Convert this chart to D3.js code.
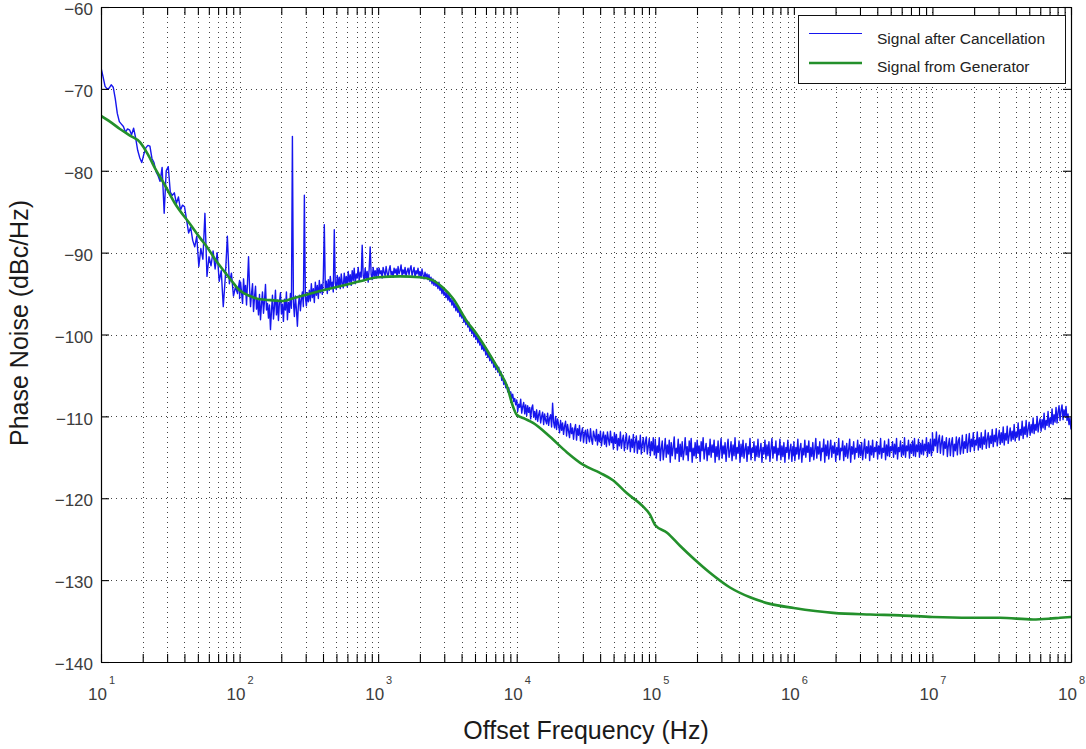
<!DOCTYPE html>
<html>
<head>
<meta charset="utf-8">
<script src="https://cdn.jsdelivr.net/npm/d3@7"></script>
<style>
  html, body { margin: 0; padding: 0; background: #ffffff; }
  svg { display: block; font-family: "Liberation Sans", Arial, sans-serif; }
</style>
</head>
<body>
<svg id="chart" width="1086" height="749"></svg>
<script>
// ---- axis content ----
const yTicks = [-60, -70, -80, -90, -100, -110, -120, -130, -140];
const decadeExponents = [1, 2, 3, 4, 5, 6, 7, 8];
const legendLabels = ["Signal after Cancellation", "Signal from Generator"];
const xTitle = "Offset Frequency (Hz)";
const yTitle = "Phase Noise (dBc/Hz)";

// ---- generator phase noise (Hz, dBc/Hz) ----
const generatorFreq = [10, 11.6, 13.7, 16.2, 19.1, 21.8, 24.9, 29.0, 34.2, 43.9, 51.8, 58.2, 66.5, 75.9, 88.1,
  100, 119, 140, 166, 206, 251, 307, 380, 531, 740,
  1000, 1438, 2005, 2489, 2939, 3469, 4377, 5167, 6412, 7570, 8505, 9400,
  10000, 11480, 13120, 17400, 23070, 30080, 39900, 49500, 62500, 81500, 91600,
  100000, 121600, 150800, 187000, 248000, 346000, 483000, 673000,
  1.0e6, 1.92e6, 3.55e6, 5.84e6, 1.0e7, 1.87e7, 3.07e7, 5.32e7, 7.05e7, 8.33e7, 1.0e8];
const generatorLevel = [-73.3, -74.0, -74.9, -75.7, -76.5, -78.0, -79.9, -81.8, -84.0, -86.5, -88.2, -89.3, -90.8, -92.1, -93.5,
  -94.6, -95.3, -95.7, -95.8, -95.9, -95.5, -95.1, -94.7, -94.1, -93.5,
  -93.0, -92.9, -93.0, -93.4, -94.3, -95.6, -98.4, -100.0, -102.5, -104.6, -106.3, -108.8,
  -109.8, -110.3, -110.8, -112.5, -114.4, -115.9, -116.9, -117.8, -119.4, -121.0, -122.0,
  -123.3, -124.2, -125.8, -127.3, -129.1, -130.9, -132.1, -132.9,
  -133.4, -134.0, -134.2, -134.3, -134.5, -134.6, -134.6, -134.8, -134.7, -134.6, -134.5];

// ---- residual after cancellation: one sweep per decade, points evenly spaced in log frequency ----
const sweepEdges = [10, 100, 1e3, 1e4, 1e5, 1e6, 1e7, 1e8];
const cancel10Hz = [-67.4, -68.5, -69.7, -70.0, -69.9, -69.5, -69.8, -71.2, -73.0, -74.0,
  -74.3, -74.6, -75.3, -74.9, -75.0, -75.6, -74.8, -76.0, -77.5, -78.4,
  -79.0, -78.0, -77.2, -76.9, -77.0, -78.5, -79.0, -80.1, -80.6, -81.3,
  -79.6, -85.2, -80.0, -79.5, -82.6, -83.0, -82.7, -84.0, -83.2, -84.8,
  -84.2, -84.4, -86.0, -87.6, -86.9, -88.5, -89.3, -88.0, -91.7, -89.5,
  -90.8, -85.2, -92.9, -90.5, -91.6, -89.8, -92.0, -90.0, -93.5, -92.2,
  -96.6, -93.0, -88.0, -93.8, -92.5, -95.3, -94.2, -95.0, -93.4];
const cancel100Hz = [-95.6, -93.6, -94.9, -96.2, -93.2, -95.1, -94.0, -96.4, -93.5, -90.5,
  -94.2, -96.6, -95.0, -93.8, -97.2, -95.4, -94.1, -96.9, -95.7, -97.6,
  -95.1, -98.2, -96.3, -94.8, -97.4, -95.9, -93.9, -97.0, -96.2, -98.0,
  -96.4, -99.4, -97.1, -95.2, -98.1, -96.6, -94.6, -97.6, -95.8, -98.3,
  -96.0, -94.9, -97.5, -96.3, -98.4, -95.7, -97.0, -94.8, -98.2, -96.1,
  -97.3, -95.0, -96.8, -75.8, -96.0, -97.8, -95.3, -96.9, -99.0, -96.4,
  -95.2, -97.1, -95.7, -94.8, -96.6, -83.0, -95.4, -96.5, -94.9, -96.0,
  -94.6, -95.9, -93.8, -95.5, -94.4, -96.1, -93.6, -95.2, -94.0, -95.6,
  -93.4, -94.9, -93.9, -95.1, -93.1, -86.6, -94.4, -93.5, -95.0, -93.3,
  -94.6, -92.9, -94.2, -93.6, -94.8, -87.2, -93.7, -94.5, -92.8, -94.1,
  -93.0, -94.4, -92.6, -93.8, -94.3, -92.5, -93.9, -92.9, -94.2, -92.3,
  -93.6, -92.7, -94.0, -92.2, -93.4, -91.9, -93.8, -92.6, -93.1, -91.8,
  -93.5, -92.4, -93.0, -89.1, -92.8, -93.4, -91.9, -93.2, -92.3, -93.6,
  -92.0, -89.3, -92.7, -93.3, -91.8, -92.9, -92.2, -93.1, -91.9, -92.6];
const cancel1kHz = [-92.9, -91.9, -92.6, -92.2, -93.1, -91.8, -92.4, -92.8, -91.7, -92.5,
  -93.0, -92.1, -91.6, -92.7, -92.3, -93.0, -91.9, -92.5, -92.0, -92.9,
  -91.7, -92.6, -92.2, -91.5, -92.8, -92.1, -92.6, -91.8, -92.9, -92.3,
  -91.9, -92.7, -92.0, -91.6, -92.8, -92.3, -91.8, -93.0, -92.2, -92.6,
  -91.9, -92.8, -92.3, -93.1, -92.0, -92.7, -93.2, -92.4, -93.0, -92.6,
  -93.3, -92.7, -93.5, -93.0, -93.8, -93.2, -94.0, -93.4, -94.1, -93.7,
  -94.4, -93.6, -94.6, -94.1, -95.0, -94.3, -95.2, -94.8, -95.5, -94.9,
  -95.8, -95.1, -96.0, -95.6, -96.4, -95.8, -96.7, -96.2, -97.1, -96.5,
  -97.3, -96.7, -97.8, -97.2, -98.0, -97.6, -98.5, -97.9, -98.8, -98.3,
  -99.1, -98.5, -99.6, -99.0, -99.9, -99.3, -100.3, -99.8, -100.6, -100.1,
  -101.0, -100.4, -101.3, -100.9, -101.8, -101.2, -102.0, -101.6, -102.5, -101.9,
  -102.8, -102.3, -103.2, -102.6, -103.5, -103.1, -104.0, -103.4, -104.3, -103.8,
  -104.6, -104.0, -105.0, -104.5, -105.6, -105.0, -106.1, -105.6, -106.5, -106.1,
  -107.0, -106.5, -107.3, -107.0, -107.8, -107.3, -108.2, -107.8, -108.6, -108.2];
const cancel10kHz = [-108.0, -109.4, -108.5, -108.9, -107.9, -109.6, -108.8, -108.3, -109.7, -108.6,
  -109.9, -108.7, -109.5, -108.9, -110.3, -109.0, -108.6, -110.1, -109.4, -110.4,
  -109.2, -110.6, -109.8, -109.3, -110.8, -110.0, -109.5, -111.0, -109.7, -110.5,
  -110.9, -109.6, -111.1, -110.2, -109.8, -111.3, -108.4, -110.7, -111.4, -110.0,
  -111.6, -110.3, -111.0, -112.0, -110.5, -111.7, -110.8, -112.2, -111.2, -110.6,
  -112.4, -111.0, -111.8, -112.6, -110.9, -112.1, -111.4, -112.8, -111.6, -111.0,
  -112.9, -111.5, -112.3, -111.1, -113.0, -112.0, -111.4, -113.2, -112.1, -111.7,
  -113.3, -111.6, -112.5, -113.1, -111.5, -112.8, -113.4, -111.8, -112.4, -113.0,
  -111.6, -113.5, -112.2, -113.1, -111.8, -113.6, -112.6, -111.9, -113.4, -112.3,
  -113.7, -111.9, -112.8, -113.5, -111.8, -113.2, -112.5, -114.0, -112.0, -113.3,
  -112.2, -114.1, -112.7, -113.6, -111.9, -113.9, -112.9, -112.3, -114.2, -113.0,
  -112.1, -114.0, -113.2, -112.4, -114.3, -112.8, -113.8, -112.2, -114.4, -113.1,
  -112.4, -114.5, -113.0, -114.0, -112.3, -114.6, -113.4, -112.6, -114.3, -113.2,
  -112.5, -114.6, -113.6, -112.7, -114.8, -113.1, -114.2, -112.6, -114.7, -113.4];
const cancel100kHz = [-112.8, -115.1, -113.6, -114.4, -112.6, -115.4, -113.9, -113.0, -115.3, -114.1,
  -112.7, -115.0, -113.5, -114.6, -112.9, -115.6, -113.2, -114.8, -113.8, -112.5,
  -115.2, -113.9, -114.5, -112.8, -115.5, -113.4, -114.9, -113.1, -115.3, -114.2,
  -112.6, -114.7, -113.7, -115.4, -113.0, -114.3, -112.7, -115.6, -113.9, -114.8,
  -113.2, -115.1, -112.9, -114.5, -113.6, -115.5, -113.1, -114.2, -112.6, -115.2,
  -114.0, -113.3, -115.4, -113.8, -114.7, -112.8, -115.0, -113.5, -114.4, -112.9,
  -115.6, -113.7, -114.9, -113.0, -115.3, -114.1, -112.7, -115.1, -113.6, -114.6,
  -113.2, -115.5, -113.9, -112.8, -115.0, -114.3, -113.1, -115.4, -113.5, -114.8,
  -112.6, -115.2, -113.8, -114.5, -113.0, -115.6, -113.4, -114.9, -112.9, -115.1,
  -114.0, -113.3, -115.5, -113.7, -114.6, -112.7, -115.3, -113.9, -114.4, -113.1,
  -115.4, -113.6, -114.9, -112.8, -115.0, -114.2, -113.3, -115.6, -113.8, -114.6,
  -112.9, -115.2, -113.5, -114.8, -113.1, -115.5, -114.0, -112.7, -115.1, -113.7,
  -114.5, -113.0, -115.4, -113.9, -114.7, -112.8, -115.3, -113.6, -114.9, -113.2,
  -115.6, -113.8, -114.4, -112.9, -115.2, -114.1, -113.4, -115.5, -113.7, -114.8];
const cancel1MHz = [-113.1, -115.4, -113.8, -114.6, -112.8, -115.2, -114.0, -113.3, -115.6, -113.9,
  -114.7, -112.9, -115.0, -113.6, -114.4, -113.0, -115.5, -113.8, -114.9, -113.2,
  -115.3, -114.1, -112.7, -115.1, -113.7, -114.6, -113.1, -115.4, -113.9, -114.3,
  -112.8, -115.6, -113.5, -114.8, -113.0, -115.2, -114.0, -112.9, -115.0, -113.6,
  -114.5, -113.2, -115.5, -113.8, -114.7, -112.7, -115.3, -113.9, -114.2, -113.0,
  -115.4, -113.6, -114.9, -113.3, -115.1, -114.0, -112.8, -115.6, -113.7, -114.6,
  -113.1, -115.2, -113.9, -114.4, -112.9, -115.0, -113.5, -114.8, -113.2, -115.3,
  -114.1, -112.8, -115.1, -113.7, -114.5, -113.0, -115.4, -113.6, -114.7, -112.9,
  -115.0, -113.8, -114.3, -113.1, -115.2, -113.6, -114.6, -112.7, -115.1, -113.9,
  -114.4, -113.0, -115.3, -113.5, -114.8, -112.8, -114.9, -113.7, -114.2, -113.1,
  -115.0, -113.4, -114.6, -112.7, -115.2, -113.8, -114.3, -113.0, -114.9, -113.5,
  -114.7, -112.6, -115.0, -113.6, -114.2, -112.9, -115.1, -113.4, -114.5, -113.0,
  -114.8, -112.7, -114.9, -113.5, -114.3, -112.8, -115.0, -113.3, -114.6, -112.9,
  -114.7, -113.4, -114.2, -112.6, -114.9, -113.2, -114.5, -112.8, -114.8, -113.3];
const cancel10MHz = [-112.0, -114.2, -112.8, -113.6, -111.9, -114.4, -113.0, -112.3, -114.5, -113.2,
  -112.4, -114.7, -113.1, -113.9, -112.6, -114.9, -113.5, -112.7, -114.8, -113.3,
  -112.6, -114.9, -113.4, -114.2, -112.5, -114.7, -113.0, -112.6, -114.6, -113.8,
  -112.3, -114.5, -113.1, -113.9, -112.2, -114.4, -113.3, -112.1, -114.3, -112.8,
  -113.7, -112.0, -114.2, -112.9, -113.5, -111.9, -114.1, -112.6, -113.8, -112.0,
  -114.0, -112.5, -113.4, -111.7, -113.9, -112.8, -112.0, -113.8, -112.4, -113.3,
  -111.6, -113.7, -112.3, -113.1, -111.5, -113.6, -112.6, -111.7, -113.4, -112.0,
  -113.2, -111.3, -113.5, -112.1, -112.9, -111.2, -113.3, -112.4, -111.4, -113.0,
  -111.8, -112.8, -111.0, -113.0, -111.9, -112.5, -110.8, -112.9, -111.6, -112.3,
  -110.6, -112.7, -111.3, -112.2, -110.5, -112.5, -111.6, -110.7, -112.3, -111.0,
  -112.0, -110.2, -112.1, -111.0, -111.7, -110.0, -111.9, -110.9, -110.3, -111.8,
  -110.4, -111.4, -109.6, -111.6, -110.5, -111.1, -109.4, -111.3, -110.2, -110.9,
  -109.1, -111.0, -109.8, -110.7, -108.9, -110.8, -109.5, -108.7, -110.5, -109.3,
  -108.6, -110.4, -109.2, -110.0, -108.8, -110.5, -109.7, -111.0, -110.2, -111.6];
const cancelSweeps = [cancel10Hz, cancel100Hz, cancel1kHz, cancel10kHz, cancel100kHz, cancel1MHz, cancel10MHz];

// ---- colours ----
const cancelColor = "#1616ee";
const generatorColor = "#23902b";

// ---- layout ----
const svg = d3.select("#chart");
const plot = { left: 101, right: 1071, top: 7, bottom: 662 };

const x = d3.scaleLog().domain([10, 1e8]).range([plot.left, plot.right]);
const y = d3.scaleLinear().domain([-140, -60]).range([plot.bottom, plot.top]);

// all 1-2-...-9 positions in every decade
const logTicks = [];
decadeExponents.forEach(e => {
  for (let m = 1; m <= 9; m++) {
    const f = m * Math.pow(10, e - 1);
    if (f >= 10 && f <= 1e8) logTicks.push(f);
  }
});
if (!logTicks.includes(1e8)) logTicks.push(1e8);

svg.append("defs").append("clipPath").attr("id", "plotClip")
  .append("rect")
  .attr("x", plot.left).attr("y", plot.top)
  .attr("width", plot.right - plot.left).attr("height", plot.bottom - plot.top);

// ---- dotted grid ----
const grid = svg.append("g").attr("class", "grid")
  .attr("stroke", "#444").attr("stroke-width", 1).attr("stroke-dasharray", "1,4");
grid.selectAll("line.v").data(logTicks.filter(f => f > 10 && f < 1e8)).join("line")
  .attr("class", "v")
  .attr("x1", d => Math.round(x(d)) + 0.5).attr("x2", d => Math.round(x(d)) + 0.5)
  .attr("y1", plot.top).attr("y2", plot.bottom);
grid.selectAll("line.h").data(yTicks.filter(v => v > -140 && v < -60)).join("line")
  .attr("class", "h")
  .attr("x1", plot.left).attr("x2", plot.right)
  .attr("y1", d => Math.round(y(d)) + 0.5).attr("y2", d => Math.round(y(d)) + 0.5);

// ---- traces ----
const cancelPoints = [];
cancelSweeps.forEach((levels, k) => {
  const lo = Math.log10(sweepEdges[k]);
  const hi = Math.log10(sweepEdges[k + 1]);
  levels.forEach((v, i) => {
    cancelPoints.push([Math.pow(10, lo + (hi - lo) * i / (levels.length - 1)), v]);
  });
});
const generatorPoints = generatorFreq.map((f, i) => [f, generatorLevel[i]]);

const line = d3.line().x(d => x(d[0])).y(d => y(d[1]));
const traces = svg.append("g").attr("clip-path", "url(#plotClip)");
traces.append("path").datum(cancelPoints)
  .attr("d", line).attr("fill", "none")
  .attr("stroke", cancelColor).attr("stroke-width", 1.4).attr("stroke-linejoin", "round");
traces.append("path").datum(generatorPoints)
  .attr("d", d3.line().x(d => x(d[0])).y(d => y(d[1])).curve(d3.curveMonotoneX))
  .attr("fill", "none")
  .attr("stroke", generatorColor).attr("stroke-width", 2.6).attr("stroke-linejoin", "round");

// ---- axes (inward ticks on all four sides) ----
const axisStyle = g => {
  g.select(".domain").attr("stroke", "#000").attr("stroke-width", 1.2);
  g.selectAll(".tick line").attr("stroke", "#000").attr("stroke-width", 1.1);
};
svg.append("g").attr("transform", `translate(0,${plot.bottom})`)
  .call(d3.axisBottom(x).tickValues(logTicks).tickSize(-8).tickSizeOuter(0).tickFormat(""))
  .call(axisStyle);
svg.append("g").attr("transform", `translate(0,${plot.top})`)
  .call(d3.axisTop(x).tickValues(logTicks).tickSize(-8).tickSizeOuter(0).tickFormat(""))
  .call(axisStyle);
svg.append("g").attr("transform", `translate(${plot.left},0)`)
  .call(d3.axisLeft(y).tickValues(yTicks).tickSize(-8).tickSizeOuter(0).tickPadding(8)
    .tickFormat(d => String(d).replace("-", "\u2212")))
  .call(axisStyle)
  .call(g => g.selectAll(".tick text")
    .attr("font-size", 17).attr("fill", "#3c3c3c").attr("dy", "0.45em")
    .attr("font-family", "'Liberation Sans', Arial, sans-serif"));
svg.append("g").attr("transform", `translate(${plot.right},0)`)
  .call(d3.axisRight(y).tickValues(yTicks).tickSize(-8).tickSizeOuter(0).tickFormat(""))
  .call(axisStyle);

// decade labels 10^n
const decadeLabels = svg.append("g").attr("fill", "#3c3c3c");
decadeExponents.forEach(e => {
  const gx = x(Math.pow(10, e));
  decadeLabels.append("text").attr("x", gx - 3.5).attr("y", 700)
    .attr("text-anchor", "middle").attr("font-size", 17).text("10");
  decadeLabels.append("text").attr("x", gx + 11).attr("y", 684)
    .attr("text-anchor", "middle").attr("font-size", 11).text(e);
});

// axis titles
svg.append("text").attr("x", 586).attr("y", 739)
  .attr("text-anchor", "middle").attr("font-size", 25).attr("fill", "#1a1a1a").text(xTitle);
svg.append("text").attr("transform", "translate(28,323) rotate(-90)")
  .attr("text-anchor", "middle").attr("font-size", 25).attr("fill", "#1a1a1a").text(yTitle);

// ---- legend ----
const legend = svg.append("g");
legend.append("rect").attr("x", 798.5).attr("y", 15.5).attr("width", 267).attr("height", 68)
  .attr("fill", "#fff").attr("stroke", "#111").attr("stroke-width", 1);
const legendColors = [cancelColor, generatorColor];
const legendWidths = [1.0, 2.6];
legendLabels.forEach((label, i) => {
  const ly = 33.5 + i * 29.5;
  legend.append("line").attr("x1", 809).attr("x2", 862).attr("y1", ly).attr("y2", ly)
    .attr("stroke", legendColors[i]).attr("stroke-width", legendWidths[i]);
  legend.append("text").attr("x", 877).attr("y", 43.5 + i * 28.3)
    .attr("font-size", 15.5).attr("fill", "#222").text(label);
});
</script>
</body>
</html>
